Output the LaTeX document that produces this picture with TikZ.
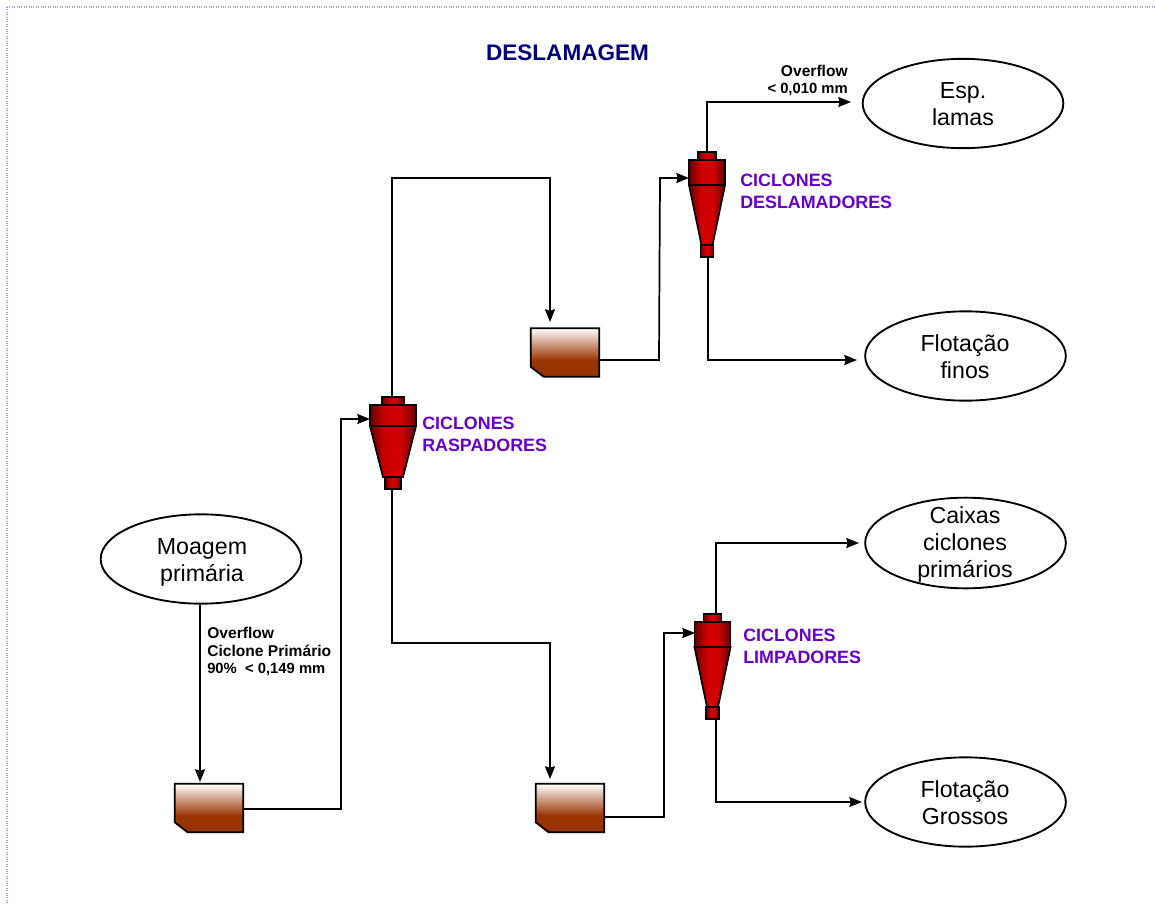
\documentclass[tikz,border=0pt]{standalone}
\usepackage{fontspec}
\setmainfont{Liberation Sans}
\usetikzlibrary{shapes.geometric,arrows.meta,calc}
\definecolor{tankbrown}{HTML}{993300}
\definecolor{cyc}{HTML}{D00000}
\definecolor{cycdark}{HTML}{6A0000}
\definecolor{lab}{HTML}{6600CC}
\definecolor{ttl}{HTML}{000080}
\definecolor{frm}{HTML}{A8A4C4}
\pgfdeclareverticalshading{tankshade}{100bp}{color(0bp)=(tankbrown); color(42bp)=(tankbrown); color(75bp)=(white); color(100bp)=(white)}
\pgfdeclarehorizontalshading{cycshade}{100bp}{color(0bp)=(cycdark); color(25bp)=(cycdark); color(42bp)=(cyc); color(58bp)=(cyc); color(75bp)=(cycdark); color(100bp)=(cycdark)}
\newcommand{\numline}{\fontsize{11.1}{13.3}\selectfont}
\tikzset{
  term/.style={ellipse,draw,line width=1.4pt,align=center,minimum width=150.5pt,minimum height=67pt,inner sep=-20pt},
  termtext/.style={align=center,font=\fontsize{17.4}{20.25}\selectfont,inner sep=0pt},
  tankanchor/.style={rectangle,minimum width=51pt,minimum height=36pt,inner sep=0pt},
  tankfill/.style={draw,line width=1.4pt,shading=tankshade},
  flow/.style={line width=1.3pt,-{Stealth[length=9.5pt,width=7.5pt,inset=1pt]}},
  cycpart/.style={draw,line width=1.3pt,shading=cycshade},
  tag/.style={align=left,anchor=west,text=lab,font=\fontsize{13.4}{16.5}\selectfont\bfseries,inner sep=0pt},
  note/.style={align=left,anchor=west,font=\fontsize{11.7}{13.3}\selectfont\bfseries,inner sep=0pt},
}
% #1 name, #2 centre x, #3 top y, #4 half body width, #5 cap half width, #6 y body top, #7 y joint, #8 y cone end, #9 y bottom
\newcommand{\cyclone}[9]{%
  \draw[cycpart] ({#2-#5},#3) rectangle ({#2+#5},#6);
  \draw[cycpart] ({#2-#4},#6) rectangle ({#2+#4},#7);
  \draw[cycpart] ({#2-#4},#7) -- ({#2+#4},#7) -- ({#2+\conehw},#8) -- ({#2-\conehw},#8) -- cycle;
  \draw[cycpart] ({#2-#5*0.72},#8) rectangle ({#2+#5*0.72},#9);
  \coordinate (#1top) at (#2,#3);
  \coordinate (#1bot) at (#2,#9);
}
\newcommand{\tank}[1]{%
  \draw[tankfill] (#1.north west) -- (#1.north east) -- (#1.south east) -- ($(#1.south west)+(13,0)$) -- ($(#1.south west)+(0,-10)$) -- cycle;
}
\begin{document}
\begin{tikzpicture}[x=0.75pt,y=-0.75pt]
\useasboundingbox (0,0) rectangle (1155,903);
\draw[frm,line width=0.8pt,densely dotted] (7,7) -- (1155,7);
\draw[frm,line width=0.8pt,densely dotted] (7,7) -- (7,903);

\node[text=ttl,font=\fontsize{16.9}{20}\selectfont\bfseries,inner sep=0pt] (title) at (567.5,53) {DESLAMAGEM};

\node[term] (esp) at (963,103.5) {};
\node[term] (finos) at (965.5,356) {};
\node[term,minimum height=68pt] (caixas) at (965.5,543) {};
\node[term] (grossos) at (965.5,802) {};
\node[term] (moagem) at (201,559) {};
\node[termtext] (esptext) at (963,104) {Esp.\\lamas};
\node[termtext] (finostext) at (965,357) {Flotação\\finos};
\node[termtext] (caixastext) at (965,544.5) {Caixas\\ciclones\\primários};
\node[termtext] (grossostext) at (965,803) {Flotação\\Grossos};
\node[termtext] (moagemtext) at (202,562) {Moagem\\primária};

\node[tankanchor] (t1) at (209,808) {};
\node[tankanchor] (t2) at (565,352.5) {};
\node[tankanchor] (t3) at (570,808) {};
\tank{t1}
\tank{t2}
\tank{t3}

\def\conehw{10}
\cyclone{cr}{393}{397}{23}{11}{405}{426}{477}{489}
\def\conehw{5.5}
\cyclone{cd}{707}{152}{18}{9}{160}{185}{245}{257}
\cyclone{cl}{712.5}{614}{18}{9}{622}{647}{707}{719}

\coordinate (crtopl) at (392,397);
\coordinate (crbotl) at (392,489);
\coordinate (crin) at (370,419);
\coordinate (cdin) at (689,178);
\coordinate (clin) at (695,633);
\coordinate (espin) at (851,102);
\coordinate (finosin) at (857,360);
\coordinate (caixasin) at (859,543);
\coordinate (grossosin) at (862,802);
\coordinate (t1in) at (200,782);
\coordinate (t2in) at (550,322);
\coordinate (t3in) at (550,779);
\coordinate (t1out) at (243,809);
\coordinate (t2out) at (599,360);
\coordinate (t3out) at (604,817);
\coordinate (cdbot2) at (708,257);
\coordinate (cltop2) at (716,614);
\coordinate (clbot2) at (716,719);

\draw[flow] (moagem.south -| t1in) -- (t1in);
\draw[flow] (t1out) -- (341,809) -- (341,419) -- (crin);
\draw[flow] (crtopl) -- (392,178) -- (550,178) -- (t2in);
\draw[flow] (crbotl) -- (392,643) -- (550,643) -- (t3in);
\draw[flow] (t2out) -- (659,360) -- (660,178) -- (cdin);
\draw[flow] (t3out) -- (664,817) -- (664,633) -- (clin);
\draw[flow] (cdtop) -- (707,102) -- (espin);
\draw[flow] (cdbot2) -- (708,360) -- (finosin);
\draw[flow] (cltop2) -- (716,543) -- (caixasin);
\draw[flow] (clbot2) -- (716,802) -- (grossosin);

\node[tag] (lr) at (422,434.5) {CICLONES\\RASPADORES};
\node[tag] (ld) at (740,191) {CICLONES\\DESLAMADORES};
\node[tag] (ll) at (743,646.5) {CICLONES\\LIMPADORES};
\node[note,align=right,anchor=east] (n1) at (848,80.5) {Overflow\\\numline < 0,010 mm};
\node[note] (n2) at (207,651.5) {Overflow\\Ciclone Primário\\\numline 90\%\ \ < 0,149 mm};
\end{tikzpicture}
\end{document}
